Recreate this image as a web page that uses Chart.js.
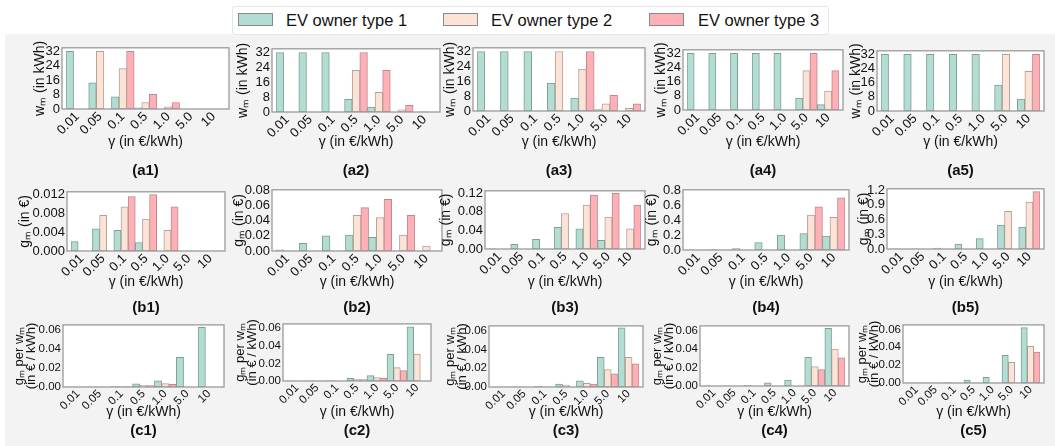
<!DOCTYPE html>
<html>
<head>
<meta charset="utf-8">
<script src="https://cdn.jsdelivr.net/npm/chart.js@4.4.1/dist/chart.umd.min.js"></script>
<style>
body{margin:0;background:#fff;font-family:'Liberation Sans',Arial,sans-serif;}
#fig{position:relative;width:1055px;height:446px;overflow:hidden;background:#fff;}
#bg{position:absolute;left:5px;top:34px;right:0;bottom:0;background:#f3f3f3;}
#legend{position:absolute;left:232px;top:6px;width:595px;height:27px;background:#fff;border:1px solid #e6e6e6;border-radius:3px;}
.patch{position:absolute;top:6px;width:33px;height:11px;border:1px solid #8a8a8a;}
.ltxt{position:absolute;top:4px;font-size:16.5px;line-height:18px;color:#111;white-space:nowrap;}
canvas{position:absolute;}
</style>
</head>
<body>
<div id="fig"><div id="bg"></div><div id="legend"></div></div>
<script>
const gammaLabels = ['0.01','0.05','0.1','0.5','1.0','5.0','10']
const ownerNames = ['EV owner type 1','EV owner type 2','EV owner type 3']

// w_m in kWh, one inner array per owner type
const wmA1 = [[32,14.6,6.8,0.6,0,0,0],[0,32,22.4,3.6,1.2,0,0],[0,0,32,8.2,3.6,0,0]]
const wmA2 = [[32,32,32,6.8,2.6,0,0],[0,0,0,22.4,10.6,1.2,0.2],[0,0,0,32,22.4,3.6,0]]
const wmA3 = [[32,32,32,15,7,0.8,0],[0,0,0,32,22.6,3.9,1.4],[0,0,0,0,32,8.4,3.8]]
const wmA4 = [[32,32,32,32,32,6.8,3],[0,0,0,0,0,22.2,10.7],[0,0,0,0,0,32,22.2]]
const wmA5 = [[32,32,32,32,32,14.6,6.8],[0,0,0,0,0,32,22.4],[0,0,0,0,0,0,32]]

// g_m in euro
const gmB1 = [[0.002,0.0047,0.0044,0.0018,0,0,0],[0,0.0076,0.0094,0.0068,0.0044,0,0],[0,0,0.0116,0.012,0.0094,0,0]]
const gmB2 = [[0.0015,0.01,0.02,0.021,0.018,0,0],[0,0,0,0.047,0.044,0.021,0.0065],[0,0,0,0.057,0.068,0.047,0]]
const gmB3 = [[0.001,0.01,0.0206,0.0466,0.0434,0.0186,0],[0,0,0,0.076,0.094,0.0686,0.0434],[0,0,0,0,0.1154,0.1194,0.094]]
const gmB4 = [[0.001,0.005,0.02,0.1,0.2,0.22,0.186],[0,0,0,0,0,0.47,0.44],[0,0,0,0,0,0.58,0.70]]
const gmB5 = [[0.001,0.005,0.02,0.1,0.21,0.485,0.447],[0,0,0,0,0,0.767,0.958],[0,0,0,0,0,0,1.17]]

// g_m per w_m in euro / kWh
const perC1 = [[0.00006,0.0003,0.00065,0.0033,0.0065,0.031,0.0624],[0,0.00024,0.00042,0.0018,0.0036,0,0],[0,0,0.00036,0.0015,0.0027,0,0]]
const perC2 = [[0.00006,0.0003,0.0006,0.0029,0.0061,0.0303,0.0617],[0,0,0,0.0019,0.0039,0.0153,0.0307],[0,0,0,0.0016,0.0029,0.0118,0]]
const perC3 = [[0.00006,0.0003,0.0006,0.0032,0.0065,0.0315,0.0629],[0,0,0,0.002,0.004,0.0185,0.0315],[0,0,0,0,0.0032,0.014,0.0247]]
const perC4 = [[0.00006,0.0003,0.0006,0.0033,0.0065,0.031,0.0624],[0,0,0,0,0,0.021,0.04],[0,0,0,0,0,0.0177,0.0305]]
const perC5 = [[0.00006,0.0003,0.0006,0.0033,0.0063,0.031,0.062],[0,0,0,0,0,0.023,0.041],[0,0,0,0,0,0,0.0347]]

// y tick values
const wmTicks = [0,8,16,24,32]
const gmTicksB1 = [0,0.004,0.008,0.012]
const gmTicksB2 = [0,0.02,0.04,0.06,0.08]
const gmTicksB3 = [0,0.04,0.08,0.12]
const gmTicksB4 = [0,0.2,0.4,0.6,0.8]
const gmTicksB5 = [0,0.3,0.6,0.9,1.2]
const perTicks = [0,0.02,0.04,0.06]

const fills = ['#b3dcd2','#fde2d6','#ffb0b6']
const edges = ['#7c9f97','#b3a198','#b98a8e']

Chart.defaults.font.family = "'Liberation Sans', Arial, sans-serif"
Chart.defaults.color = '#111'

// legend
const legendEl = document.getElementById('legend')
const patchX = [5,210,416]
const textX = [53,258,465]
ownerNames.forEach((n,i)=>{
  const p = document.createElement('div')
  p.className = 'patch'
  p.style.left = patchX[i]+'px'
  p.style.background = fills[i]
  legendEl.appendChild(p)
  const t = document.createElement('div')
  t.className = 'ltxt'
  t.style.left = textX[i]+'px'
  t.textContent = n
  legendEl.appendChild(t)
})

const rows = {
  a:{yTitle:'wₘ (in kWh)', titleSize:14, titleLH:1.15, tickSize:13, xTickSize:13, xTitleY:143, labelY:171},
  b:{yTitle:'gₘ (in €)', titleSize:14, titleLH:1.15, tickSize:13, xTickSize:13, xTitleY:283, labelY:308},
  c:{yTitle:['gₘ per wₘ','(in € / kWh)'], titleSize:13, titleLH:0.95, tickSize:11.5, xTickSize:11.5, xTitleY:413, labelY:431}
}

const panels = [
  {name:'(a1)', row:'a', data:wmA1, ticks:wmTicks, max:34, dec:0, box:[62,44,229,109], ytx:40},
  {name:'(a2)', row:'a', data:wmA2, ticks:wmTicks, max:34, dec:0, box:[272,45,440,112], ytx:243},
  {name:'(a3)', row:'a', data:wmA3, ticks:wmTicks, max:34, dec:0, box:[473,44,645,111], ytx:450},
  {name:'(a4)', row:'a', data:wmA4, ticks:wmTicks, max:34, dec:0, box:[683,46,843,110], ytx:661},
  {name:'(a5)', row:'a', data:wmA5, ticks:wmTicks, max:34, dec:0, box:[877,47,1044,111], ytx:856},
  {name:'(b1)', row:'b', data:gmB1, ticks:gmTicksB1, max:0.0126, dec:3, box:[67,188,225,251], ytx:25},
  {name:'(b2)', row:'b', data:gmB2, ticks:gmTicksB2, max:0.0805, dec:2, box:[272,186,442,251], ytx:239},
  {name:'(b3)', row:'b', data:gmB3, ticks:gmTicksB3, max:0.1246, dec:2, box:[485,187,645,249], ytx:446},
  {name:'(b4)', row:'b', data:gmB4, ticks:gmTicksB4, max:0.809, dec:1, box:[683,186,849,250], ytx:652},
  {name:'(b5)', row:'b', data:gmB5, ticks:gmTicksB5, max:1.227, dec:1, box:[887,185,1044,249], ytx:864},
  {name:'(c1)', row:'c', data:perC1, ticks:perTicks, max:0.065, dec:2, box:[63,322,224,387], ytx:19},
  {name:'(c2)', row:'c', data:perC2, ticks:perTicks, max:0.065, dec:2, box:[283,321,431,381], ytx:240},
  {name:'(c3)', row:'c', data:perC3, ticks:perTicks, max:0.065, dec:2, box:[489,323,643,387], ytx:450},
  {name:'(c4)', row:'c', data:perC4, ticks:perTicks, max:0.065, dec:2, box:[700,323,849,386], ytx:657},
  {name:'(c5)', row:'c', data:perC5, ticks:perTicks, max:0.065, dec:2, box:[903,322,1044,383], ytx:862}
]

const framePlugin = {
  id:'frame',
  beforeDraw(chart, args, opts){
    const {ctx, chartArea:a} = chart
    ctx.save()
    ctx.fillStyle = '#fff'
    ctx.fillRect(a.left-opts.m, a.top, a.width+2*opts.m, a.height)
    ctx.restore()
  },
  afterDatasetsDraw(chart, args, opts){
    const {ctx, chartArea:a} = chart
    ctx.save()
    ctx.strokeStyle = '#9a9a9a'
    ctx.lineWidth = 1.3
    ctx.strokeRect(a.left-opts.m, a.top, a.width+2*opts.m, a.height)
    ctx.restore()
  }
}

const fig = document.getElementById('fig')

function makePanel(p){
  const r = rows[p.row]
  const [L,T,R,B] = p.box
  const m = 4
  const lh = r.titleSize*r.titleLH
  const scaleLeft = Math.round(p.ytx - lh/2)
  const yw = L + m - scaleLeft
  const padTop = 10, padR = 12
  const xh = Math.round(r.xTitleY + 8.4 - B)
  const labelPad = Math.max(0, Math.round(r.labelY - 9 - (B + xh)))
  const w = yw + (R - L - 2*m) + padR
  const h = padTop + (B - T) + xh + labelPad + 18

  const cv = document.createElement('canvas')
  cv.width = w
  cv.height = h
  cv.style.left = scaleLeft+'px'
  cv.style.top = (T - padTop)+'px'
  fig.appendChild(cv)

  new Chart(cv, {
    type:'bar',
    data:{
      labels:gammaLabels,
      datasets:ownerNames.map((n,i)=>({
        label:n,
        data:p.data[i],
        backgroundColor:fills[i],
        borderColor:edges[i],
        borderWidth:1,
        borderSkipped:false,
        categoryPercentage:1,
        barPercentage:1
      }))
    },
    options:{
      responsive:false,
      animation:false,
      devicePixelRatio:1,
      layout:{padding:{top:padTop, right:padR, left:0, bottom:0}},
      plugins:{
        legend:{display:false},
        tooltip:{enabled:false},
        frame:{m:m},
        title:{
          display:true,
          text:p.name,
          position:'bottom',
          fullSize:false,
          font:{size:15, weight:'bold', lineHeight:1.2},
          padding:{top:labelPad, bottom:0},
          color:'#111'
        }
      },
      scales:{
        x:{
          grid:{display:false, drawTicks:false},
          border:{display:false},
          ticks:{font:{size:r.xTickSize, lineHeight:1}, maxRotation:45, minRotation:45, padding:1, autoSkip:false},
          title:{display:true, text:'γ (in €/kWh)', font:{size:14, lineHeight:1.2}, padding:0},
          afterFit(s){ s.height = xh }
        },
        y:{
          min:0,
          max:p.max,
          grid:{display:false, drawTicks:false},
          border:{display:false},
          afterBuildTicks(s){ s.ticks = p.ticks.map(v=>({value:v})) },
          ticks:{font:{size:r.tickSize}, padding:m+2, autoSkip:false, callback:(v)=>Number(v).toFixed(p.dec)},
          title:{display:true, text:r.yTitle, font:{size:r.titleSize, lineHeight:r.titleLH}, padding:0},
          afterFit(s){ s.width = yw }
        }
      }
    },
    plugins:[framePlugin]
  })
}

panels.forEach(makePanel)
</script>
</body>
</html>
